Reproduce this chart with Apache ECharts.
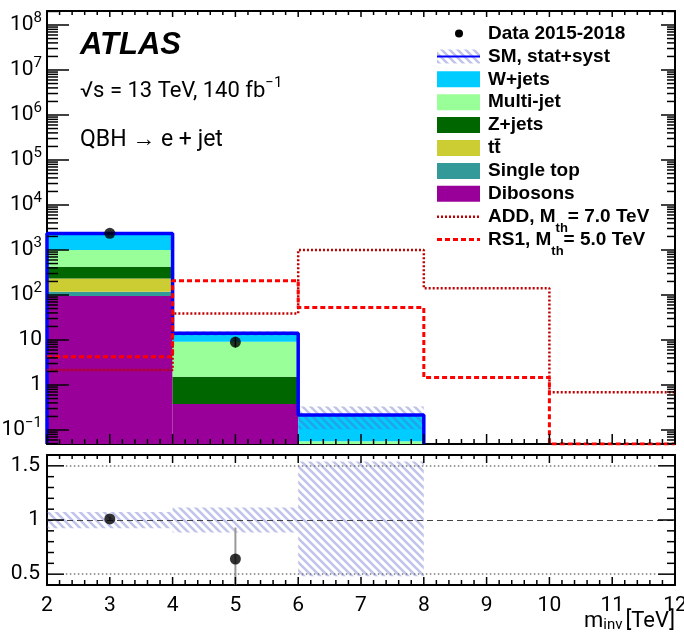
<!DOCTYPE html>
<html><head><meta charset="utf-8">
<script src="https://cdn.jsdelivr.net/npm/echarts@6/dist/echarts.min.js"></script>
<style>html,body{margin:0;padding:0;background:#fff}#c{width:684px;height:634px}</style>
</head><body><div id="c"></div><script>
// ---------------- data ----------------
const binEdges = [2, 4, 6, 8, 10, 12];            // m_inv bin edges [TeV]
// SM backgrounds per bin (bins 2-4, 4-6, 6-8), stacked bottom -> top
const dibosons  = [95, 0.38, 0.01];
const singleTop = [23.5, 0, 0];
const ttbar     = [115, 0, 0];
const zjets     = [192, 1.15, 0.02];
const multijet  = [574, 7.67, 0.026];
const wjets     = [1330, 4.9, 0.16];
// relative SM uncertainty band (stat+syst)
const smRelLo = [0.925, 0.885, 0.48];
const smRelHi = [1.075, 1.115, 1.54];
// data
const dataX     = [3, 5];
const dataY     = [2350, 9];
const dataErrLo = [2300, 6.8];
const dataErrHi = [2400, 11.5];
// ratio panel
const ratioY     = [1.01, 0.64];
const ratioErrLo = [0.99, 0.35];
const ratioErrHi = [1.03, 0.93];
// signals per bin (2-4, 4-6, 6-8, 8-10, 10-12)
const addSignal = [2.15, 39, 1000, 141, 0.69];
const rs1Signal = [4.26, 208, 53, 1.46, 0];
// tick labels
const logTickExps  = [-1, 0, 1, 2, 3, 4, 5, 6, 7, 8];
const ratioTicks   = [0.5, 1, 1.5];
const xTickLabels  = [2, 3, 4, 5, 6, 7, 8, 9, 10, 11, 12];
const legendLabels = ['Data 2015-2018', 'SM, stat+syst', 'W+jets', 'Multi-jet', 'Z+jets', 'tt\u0304',
                      'Single top', 'Dibosons', 'ADD, M{s|th}= 7.0 TeV', 'RS1, M{s|th}= 5.0 TeV'];

// ---------------- layout / style ----------------
const LOG_MIN = -1.311, LOG_MAX = 8.311;
const YMIN = Math.pow(10, LOG_MIN), YMAX = Math.pow(10, LOG_MAX);
const R_MIN = 0.4, R_MAX = 1.6;
const X_MIN = binEdges[0], X_MAX = binEdges[binEdges.length - 1];
const TOP_H = 433, BOT_H = 130;
const FONT = 'Roboto';
const LFONT = '"Liberation Sans", Arial, sans-serif';

function hatchPattern() {
  const c = document.createElement('canvas');
  c.width = 8; c.height = 8;
  const g = c.getContext('2d');
  g.strokeStyle = 'rgba(90,100,200,0.38)';
  g.lineWidth = 2.6;
  g.beginPath();
  g.moveTo(-2, -2); g.lineTo(10, 10);
  g.moveTo(-10, -2); g.lineTo(2, 10);
  g.moveTo(6, -2); g.lineTo(18, 10);
  g.stroke();
  return c;
}
const HATCH = { image: hatchPattern(), repeat: 'repeat' };

function rectRender(fill) {
  return function (params, api) {
    const p0 = api.coord([api.value(0), api.value(3)]);
    const p1 = api.coord([api.value(1), api.value(2)]);
    return { type: 'rect', shape: { x: p0[0], y: p0[1], width: p1[0] - p0[0], height: p1[1] - p0[1] },
             style: { fill: fill } };
  };
}
function errRender(color, w) {
  return function (params, api) {
    const a = api.coord([api.value(0), api.value(1)]);
    const b = api.coord([api.value(0), api.value(2)]);
    return { type: 'line', shape: { x1: a[0], y1: a[1], x2: b[0], y2: b[1] },
             style: { stroke: color, lineWidth: w } };
  };
}

// ---------------- stack ----------------
const components = [
  { name: 'Dibosons',   values: dibosons,  color: '#990099' },
  { name: 'Single top', values: singleTop, color: '#339999' },
  { name: 'tt\u0304',   values: ttbar,     color: '#cccc33' },
  { name: 'Z+jets',     values: zjets,     color: '#006600' },
  { name: 'Multi-jet',  values: multijet,  color: '#99ff99' },
  { name: 'W+jets',     values: wjets,     color: '#00ccff' }
];
const cum = dibosons.map(() => 0);
const stackSeries = components.map(c => {
  const data = [];
  c.values.forEach((v, b) => {
    const lo = cum[b], hi = lo + v;
    cum[b] = hi;
    if (v > 0) data.push([binEdges[b], binEdges[b + 1], lo > 0 ? lo : YMIN, hi]);
  });
  return { type: 'custom', name: c.name, xAxisIndex: 0, yAxisIndex: 0, clip: true, silent: true, z: 2,
           encode: { x: [0, 1], y: [2, 3] }, renderItem: rectRender(c.color), data: data };
});
const smTotal = cum.slice();

const bandTop = smTotal.map((t, b) => [binEdges[b], binEdges[b + 1], t * smRelLo[b], t * smRelHi[b]]);
const bandRatio = smTotal.map((t, b) => [binEdges[b], binEdges[b + 1], smRelLo[b], smRelHi[b]]);

const smLine = [[binEdges[0], YMIN]];
smTotal.forEach((t, b) => smLine.push([binEdges[b], t]));
smLine.push([binEdges[smTotal.length], YMIN]);

function signalLine(vals) {
  const pts = vals.map((v, i) => [binEdges[i], v > 0 ? v : YMIN]);
  pts.push([X_MAX, pts[pts.length - 1][1]]);
  return pts;
}

// ---------------- tick positions ----------------
const logMinor = [];
for (let n = -2; n <= 8; n++) for (let k = 2; k <= 9; k++) {
  const e = Math.log10(k) + n;
  if (e > LOG_MIN && e < LOG_MAX) logMinor.push(e);
}
const ratioMinor = [];
for (let i = 4; i <= 16; i++) { const v = i / 10; if (ratioTicks.indexOf(v) < 0) ratioMinor.push(v); }
const xMinor = [];
for (let i = 0; i <= (X_MAX - X_MIN) * 5; i++) { if (i % 5) xMinor.push(X_MIN + i / 5); }

// inward tick marks, placed through the axes' own coordinate mapping
function tickSeries(xi, yi, yMin, yMax, yMajor, yMinorV, len) {
  return {
    type: 'custom', xAxisIndex: xi, yAxisIndex: yi, clip: false, silent: true, z: 50,
    data: [[X_MIN, yMin]], encode: { x: 0, y: 1 },
    renderItem: function (params, api) {
      const ch = [];
      const R = (x, y, w, h) => ch.push({ type: 'rect', shape: { x, y, width: w, height: h }, style: { fill: '#000' } });
      const yb = api.coord([X_MIN, yMin])[1], yt = api.coord([X_MIN, yMax])[1];
      const xl = api.coord([X_MIN, yMin])[0], xr = api.coord([X_MAX, yMin])[0];
      xTickLabels.forEach(v => { const x = api.coord([v, yMin])[0]; R(x - 0.75, yb - len.xb, 1.5, len.xb); R(x - 0.75, yt, 1.5, len.xt); });
      xMinor.forEach(v => { const x = api.coord([v, yMin])[0]; R(x - 0.75, yb - len.xbm, 1.5, len.xbm); R(x - 0.75, yt, 1.5, len.xtm); });
      yMajor.forEach(v => { const y = api.coord([X_MIN, v])[1]; R(xl, y - 0.75, len.yl, 1.5); R(xr - len.yr, y - 0.75, len.yr, 1.5); });
      yMinorV.forEach(v => { const y = api.coord([X_MIN, v])[1]; R(xl, y - 0.75, len.ylm, 1.5); R(xr - len.yrm, y - 0.75, len.yrm, 1.5); });
      return { type: 'group', children: ch };
    }
  };
}

// ---------------- axes ----------------
function axLine() { return { show: true, onZero: false, lineStyle: { color: '#000', width: 2 } }; }

function xAx(grid, pos, labels) {
  return {
    type: 'value', gridIndex: grid, position: pos, min: X_MIN, max: X_MAX, interval: 1,
    axisLine: axLine(), splitLine: { show: false }, axisTick: { show: false }, minorTick: { show: false },
    axisLabel: labels ? { show: true, margin: 10, color: '#000', fontFamily: FONT, fontSize: 21,
      customValues: xTickLabels, showMinLabel: true, showMaxLabel: true } : { show: false }
  };
}
function yAx(grid, pos, min, max, labelCfg) {
  return {
    type: 'value', gridIndex: grid, position: pos, min: min, max: max,
    axisLine: axLine(), splitLine: { show: false }, axisTick: { show: false },
    axisLabel: labelCfg || { show: false }
  };
}
const logLabel = {
  show: true, margin: 5, customValues: logTickExps, color: '#000',
  formatter: function (v) {
    const n = Math.round(v);
    if (n === 0) return '{b|1}';
    if (n === 1) return '{b|10}';
    return '{b|10}{s|' + (n < 0 ? '\u2212' + (-n) : n) + '}';
  },
  rich: {
    b: { fontFamily: FONT, fontSize: 21, lineHeight: 28, color: '#000' },
    s: { fontFamily: FONT, fontSize: 15, verticalAlign: 'top', color: '#000' }
  }
};
const ratioLabel = { show: true, margin: 7, customValues: ratioTicks, color: '#000', fontFamily: FONT, fontSize: 21,
  formatter: v => String(Math.round(v * 10) / 10) };

const xAxes = [xAx(0, 'bottom', false), xAx(0, 'top', false), xAx(1, 'bottom', true), xAx(1, 'top', false)];
xAxes[2].name = '{m|m}{i|inv} {m|[TeV]}';
xAxes[2].nameLocation = 'end';
xAxes[2].nameGap = 0;
xAxes[2].nameMoveOverlap = false;
xAxes[2].nameTextStyle = { align: 'right', verticalAlign: 'top', padding: [24, 0, 0, 0],
  rich: { m: { fontFamily: FONT, fontSize: 22, color: '#000', verticalAlign: 'middle', lineHeight: 24 },
          i: { fontFamily: FONT, fontSize: 15, color: '#000', verticalAlign: 'bottom' } } };

const yAxes = [
  { type: 'log', logBase: 10, gridIndex: 0, position: 'left', min: YMIN, max: YMAX,
    axisLine: { show: false, onZero: false }, axisTick: { show: false }, axisLabel: { show: false }, splitLine: { show: false } },
  yAx(0, 'left', LOG_MIN, LOG_MAX, logLabel),
  yAx(0, 'right', LOG_MIN, LOG_MAX),
  yAx(1, 'left', R_MIN, R_MAX, ratioLabel),
  yAx(1, 'right', R_MIN, R_MAX)
];

// ---------------- series ----------------
const series = stackSeries.concat([
  { type: 'custom', name: 'SM band', xAxisIndex: 0, yAxisIndex: 0, clip: true, silent: true, z: 3,
    encode: { x: [0, 1], y: [2, 3] }, renderItem: rectRender(HATCH), data: bandTop },
  { type: 'line', name: 'SM, stat+syst', xAxisIndex: 0, yAxisIndex: 0, step: 'end', symbol: 'none', z: 4,
    lineStyle: { color: '#0000ff', width: 3.5 }, data: smLine, silent: true },
  { type: 'line', name: 'ADD', xAxisIndex: 0, yAxisIndex: 0, step: 'end', symbol: 'none', z: 5,
    lineStyle: { color: '#c00000', width: 2.5, type: [2, 2] }, data: signalLine(addSignal), silent: true },
  { type: 'line', name: 'RS1', xAxisIndex: 0, yAxisIndex: 0, step: 'end', symbol: 'none', z: 6,
    lineStyle: { color: '#ff0000', width: 3, type: [5, 3] }, data: signalLine(rs1Signal), silent: true },
  { type: 'custom', name: 'Data err', xAxisIndex: 0, yAxisIndex: 0, clip: true, silent: true, z: 7,
    encode: { x: 0, y: [1, 2] }, renderItem: errRender('#000', 1.5),
    data: dataX.map((x, i) => [x, dataErrLo[i], dataErrHi[i]]) },
  { type: 'scatter', name: 'Data 2015-2018', xAxisIndex: 0, yAxisIndex: 0, symbol: 'circle', symbolSize: 11, z: 10,
    itemStyle: { color: '#000' }, data: dataX.map((x, i) => [x, dataY[i]]), silent: true },
  tickSeries(0, 1, LOG_MIN, LOG_MAX, logTickExps, logMinor,
    { xb: 10, xt: 6, xbm: 5, xtm: 4, yl: 22, yr: 14, ylm: 11, yrm: 8 }),
  // ratio panel
  { type: 'custom', name: 'Ratio band', xAxisIndex: 2, yAxisIndex: 3, clip: true, silent: true, z: 2,
    encode: { x: [0, 1], y: [2, 3] }, renderItem: rectRender(HATCH), data: bandRatio },
  { type: 'line', name: 'guides', xAxisIndex: 2, yAxisIndex: 3, data: [], silent: true, z: 3,
    markLine: { silent: true, symbol: 'none', label: { show: false },
      data: [
        [{ coord: [2.3, 1.5], lineStyle: { color: '#777', width: 1.5, type: [1.5, 2.5] } }, { coord: [11.72, 1.5] }],
        [{ coord: [2.3, 0.5], lineStyle: { color: '#777', width: 1.5, type: [1.5, 2.5] } }, { coord: [11.72, 0.5] }],
        [{ coord: [2, 1], lineStyle: { color: '#444', width: 1, type: [6, 4] } }, { coord: [12, 1] }]
      ] } },
  { type: 'custom', name: 'Ratio err', xAxisIndex: 2, yAxisIndex: 3, clip: true, silent: true, z: 4,
    encode: { x: 0, y: [1, 2] }, renderItem: errRender('#999', 2),
    data: dataX.map((x, i) => [x, ratioErrLo[i], ratioErrHi[i]]) },
  { type: 'scatter', name: 'Ratio', xAxisIndex: 2, yAxisIndex: 3, symbol: 'circle', symbolSize: 11, z: 10,
    itemStyle: { color: '#000' }, data: dataX.map((x, i) => [x, ratioY[i]]), silent: true },
  tickSeries(2, 3, R_MIN, R_MAX, ratioTicks, ratioMinor,
    { xb: 8, xt: 8, xbm: 5, xtm: 4, yl: 17, yr: 17, ylm: 7, yrm: 8 })
]);

// ---------------- legend & labels (graphic) ----------------
const legendColors = [null, null, '#00ccff', '#99ff99', '#006600', '#cccc33', '#339999', '#990099', null, null];
const graphics = [];
const LX0 = 437, LX1 = 480, LTX = 488;
legendLabels.forEach((lab, i) => {
  const y = 33.5 + 22.9 * i;
  if (i === 0) {
    graphics.push({ type: 'circle', shape: { cx: 459, cy: y, r: 4 }, style: { fill: '#000' } });
  } else if (i === 1) {
    graphics.push({ type: 'rect', shape: { x: LX0, y: y - 7, width: LX1 - LX0, height: 14 }, style: { fill: HATCH } });
    graphics.push({ type: 'line', shape: { x1: LX0, y1: y, x2: LX1, y2: y }, style: { stroke: '#0000ff', lineWidth: 2 } });
  } else if (i === 8) {
    graphics.push({ type: 'line', shape: { x1: LX0, y1: y, x2: LX1, y2: y }, style: { stroke: '#c00000', lineWidth: 2.5, lineDash: [2, 2] } });
  } else if (i === 9) {
    graphics.push({ type: 'line', shape: { x1: LX0, y1: y, x2: LX1, y2: y }, style: { stroke: '#ff0000', lineWidth: 3, lineDash: [5, 3] } });
  } else {
    graphics.push({ type: 'rect', shape: { x: LX0, y: y - 8, width: LX1 - LX0, height: 16 }, style: { fill: legendColors[i] } });
  }
  graphics.push({ type: 'text', x: LTX, y: y, style: {
    text: lab, fill: '#000', fontFamily: LFONT, fontWeight: 'bold', fontSize: 19, align: 'left', verticalAlign: 'middle',
    rich: { s: { fontFamily: LFONT, fontWeight: 'bold', fontSize: 13, fill: '#000', verticalAlign: 'bottom' } },
    lineHeight: 36 } });
});
graphics.push({ type: 'text', x: 80, y: 45, style: { text: 'ATLAS', fill: '#000', fontFamily: LFONT, fontWeight: 'bold',
  fontStyle: 'italic', fontSize: 31, align: 'left', verticalAlign: 'middle' } });
graphics.push({ type: 'text', x: 80, y: 91, style: {
  text: '{b|\u221As = 13 TeV, 140 fb}{s|\u22121}', align: 'left', verticalAlign: 'middle',
  rich: { b: { fontFamily: FONT, fontSize: 22, lineHeight: 30, fill: '#000' },
          s: { fontFamily: FONT, fontSize: 15, fill: '#000', verticalAlign: 'top' } } } });
graphics.push({ type: 'text', x: 80, y: 140, style: { text: 'QBH \u2192 e + jet', fill: '#000', fontFamily: FONT,
  fontSize: 23, align: 'left', verticalAlign: 'middle' } });

const chart = echarts.init(document.getElementById('c'), null, { renderer: 'canvas' });
chart.setOption({
  animation: false,
  backgroundColor: '#fff',
  textStyle: { fontFamily: FONT, color: '#000' },
  grid: [
    { left: 47, top: 11, width: 628, height: TOP_H, show: false, containLabel: false, outerBoundsMode: 'none' },
    { left: 47, top: 455, width: 628, height: BOT_H, show: false, containLabel: false, outerBoundsMode: 'none' }
  ],
  xAxis: xAxes,
  yAxis: yAxes,
  series: series,
  graphic: { elements: graphics }
});
</script></body></html>
